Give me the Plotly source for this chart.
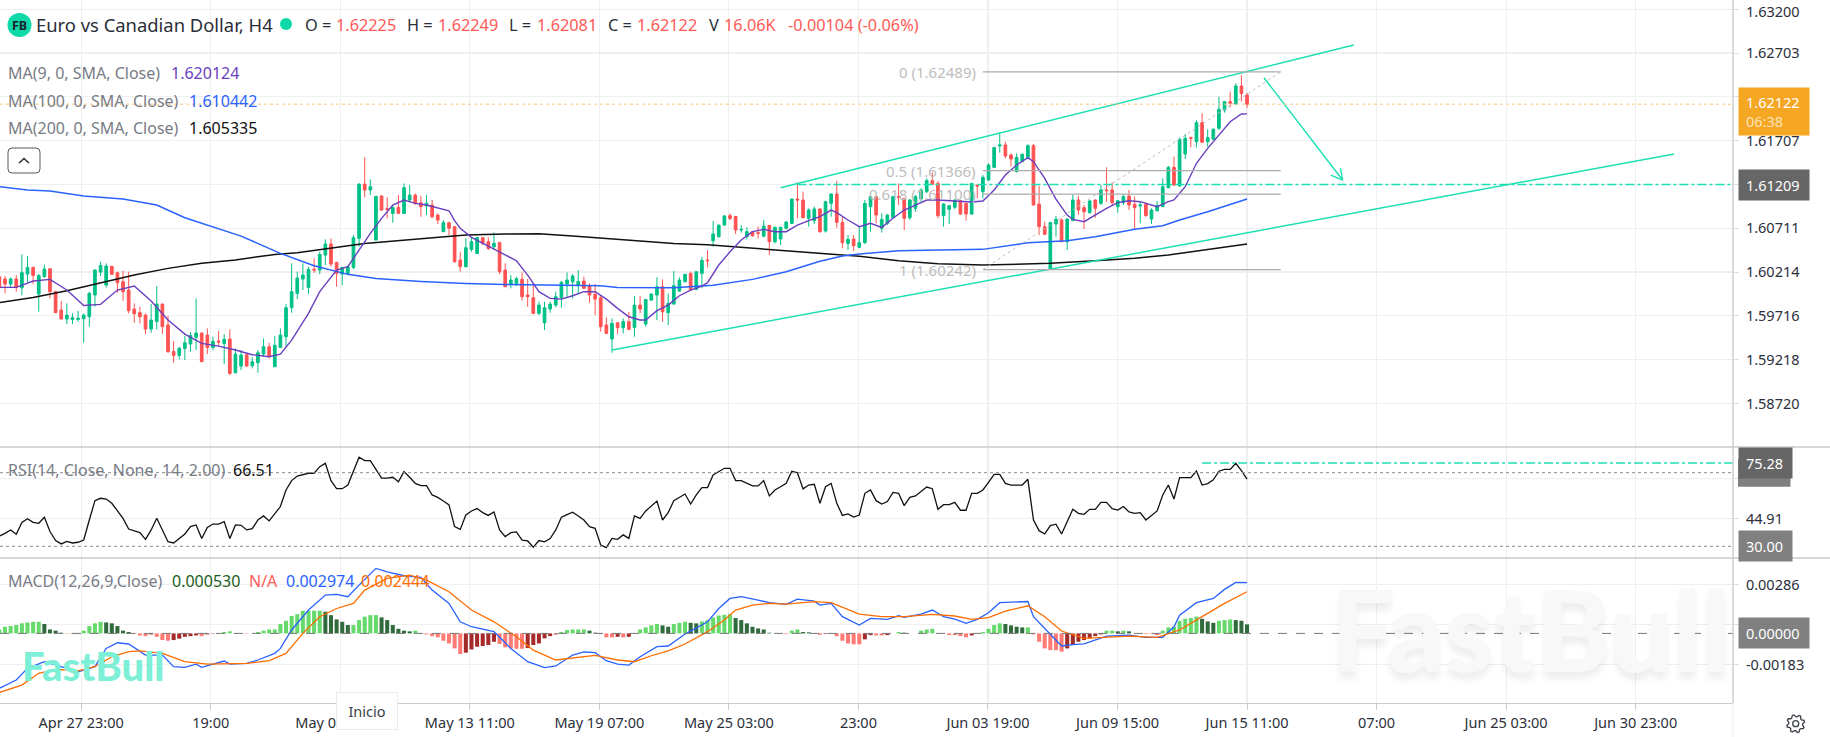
import numpy as np
import plotly.graph_objects as go

# --- four-hour EUR/CAD candles ---
OPEN = [
1.60161,1.60135,1.60078,1.60135,1.60036,1.60191,1.60267,1.59964,1.60161,1.60252,
1.59994,1.59782,1.59680,1.59676,1.59676,1.59684,1.59707,1.59953,1.60214,1.60066,
1.60279,1.60207,1.60104,1.60010,1.59794,1.59752,1.59725,1.59566,1.59650,1.59850,
1.59612,1.59312,1.59267,1.59347,1.59396,1.59472,1.59521,1.59498,1.59358,1.59430,
1.59403,1.59453,1.59070,1.59146,1.59275,1.59150,1.59184,1.59282,1.59365,1.59138,
1.59358,1.59479,1.59809,1.59972,1.60135,1.60040,1.60245,1.60237,1.60407,1.60533,
1.60324,1.60191,1.60199,1.60267,1.60597,1.61214,1.61146,1.60578,1.61078,1.60934,
1.60881,1.60949,1.60881,1.61033,1.61089,1.61002,1.60965,1.60976,1.60862,1.60673,
1.60775,1.60730,1.60351,1.60275,1.60472,1.60426,1.60605,1.60559,1.60502,1.60548,
1.60237,1.60078,1.60085,1.60131,1.59953,1.59922,1.59744,1.59638,1.59794,1.59839,
1.59922,1.60078,1.60104,1.60066,1.60112,1.60055,1.59960,1.59922,1.59612,1.59453,
1.59638,1.59581,1.59650,1.59585,1.59839,1.59623,1.59896,1.59953,1.60047,1.59752,
1.59850,1.59998,1.60104,1.60199,1.60017,1.60199,1.60351,1.60570,1.60616,1.60748,
1.60855,1.60847,1.60692,1.60616,1.60673,1.60661,1.60623,1.60745,1.60559,1.60589,
1.60711,1.60767,1.61044,1.61033,1.60825,1.60798,1.60931,1.60681,1.60995,1.61101,
1.60779,1.60540,1.60590,1.60495,1.60548,1.60957,1.61071,1.60711,1.60768,1.60832,
1.61071,1.61052,1.60832,1.60938,1.61044,1.61128,1.61253,1.61222,1.60855,1.60927,
1.60950,1.61025,1.60995,1.60874,1.61203,1.61128,1.61260,1.61404,1.61647,1.61658,
1.61544,1.61355,1.61469,1.61518,1.61651,1.60987,1.60730,1.60249,1.60760,1.60806,
1.60559,1.60798,1.61033,1.60946,1.60889,1.61033,1.60995,1.61147,1.61147,1.60957,
1.61003,1.61078,1.60984,1.60965,1.60984,1.60817,1.60912,1.60957,1.61173,1.61404,
1.61192,1.61556,1.61741,1.61696,1.61912,1.61696,1.61723,1.61848,1.62056,1.62151,
1.62124,1.62329,1.62225]
HIGH = [
1.60267,1.60169,1.60154,1.60180,1.60415,1.60396,1.60275,1.60191,1.60301,1.60256,
1.59998,1.59885,1.59858,1.59744,1.59771,1.59744,1.59991,1.60245,1.60332,1.60313,
1.60286,1.60218,1.60229,1.60218,1.59858,1.59820,1.59744,1.59850,1.60055,1.59858,
1.59718,1.59430,1.59365,1.59487,1.59532,1.59915,1.59525,1.59574,1.59479,1.59544,
1.59509,1.59563,1.59347,1.59328,1.59282,1.59244,1.59328,1.59460,1.59411,1.59487,
1.59574,1.59850,1.60313,1.60218,1.60313,1.60275,1.60370,1.60445,1.60586,1.60597,
1.60332,1.60275,1.60282,1.60635,1.61222,1.61518,1.61268,1.61074,1.61089,1.61063,
1.60976,1.61089,1.61222,1.61203,1.61108,1.61078,1.61089,1.61033,1.60881,1.60805,
1.60786,1.60737,1.60445,1.60597,1.60605,1.60608,1.60608,1.60608,1.60665,1.60559,
1.60313,1.60180,1.60161,1.60210,1.60135,1.60074,1.59877,1.59877,1.59877,1.59991,
1.60112,1.60210,1.60191,1.60237,1.60161,1.60085,1.60078,1.59953,1.59699,1.59688,
1.59642,1.59688,1.59763,1.59941,1.59941,1.59907,1.59972,1.60154,1.60131,1.59972,
1.60225,1.60154,1.60191,1.60218,1.60225,1.60389,1.60464,1.60794,1.60760,1.60862,
1.60881,1.60851,1.60748,1.60722,1.60680,1.60730,1.60805,1.60748,1.60730,1.60730,
1.60794,1.61048,1.61233,1.61128,1.60938,1.60957,1.60938,1.61025,1.61109,1.61249,
1.60843,1.60635,1.60635,1.60737,1.61033,1.61078,1.61078,1.60881,1.60874,1.61082,
1.61222,1.61052,1.61044,1.61090,1.61166,1.61279,1.61347,1.61249,1.60995,1.60976,
1.61041,1.61033,1.61003,1.61222,1.61203,1.61317,1.61450,1.61639,1.61802,1.61696,
1.61563,1.61563,1.61563,1.61666,1.61670,1.61192,1.60787,1.60787,1.60851,1.60825,
1.60825,1.61090,1.61082,1.60976,1.61033,1.61041,1.61203,1.61404,1.61234,1.61033,
1.61097,1.61147,1.61071,1.61014,1.61006,1.60938,1.61022,1.61279,1.61419,1.61526,
1.61745,1.61783,1.61753,1.61942,1.62018,1.61836,1.61848,1.62208,1.62151,1.62264,
1.62359,1.62454,1.62249]
LOW = [
1.60010,1.59972,1.60040,1.59991,1.59949,1.60097,1.60078,1.59763,1.60154,1.59915,
1.59752,1.59680,1.59623,1.59623,1.59650,1.59411,1.59593,1.59820,1.60169,1.60036,
1.60180,1.59979,1.59888,1.59744,1.59638,1.59631,1.59509,1.59525,1.59562,1.59509,
1.59297,1.59184,1.59221,1.59214,1.59309,1.59328,1.59191,1.59282,1.59328,1.59377,
1.59169,1.59043,1.59062,1.59100,1.59138,1.59119,1.59070,1.59252,1.59233,1.59138,
1.59358,1.59365,1.59752,1.59907,1.60010,1.59964,1.60207,1.60191,1.60294,1.60275,
1.60047,1.60066,1.60180,1.60245,1.60502,1.61063,1.61089,1.60578,1.60911,1.60824,
1.60775,1.60881,1.60874,1.61014,1.60976,1.60843,1.60862,1.60824,1.60760,1.60673,
1.60635,1.60320,1.60218,1.60267,1.60445,1.60419,1.60521,1.60464,1.60472,1.60191,
1.60047,1.60029,1.60055,1.59888,1.59820,1.59737,1.59725,1.59555,1.59752,1.59813,
1.59809,1.59934,1.59915,1.59964,1.60029,1.59866,1.59725,1.59536,1.59509,1.59297,
1.59509,1.59517,1.59555,1.59479,1.59744,1.59593,1.59888,1.59669,1.59650,1.59612,
1.59847,1.59991,1.60097,1.60002,1.60010,1.60029,1.60267,1.60502,1.60604,1.60737,
1.60805,1.60646,1.60661,1.60586,1.60616,1.60597,1.60608,1.60407,1.60540,1.60521,
1.60699,1.60760,1.60824,1.60825,1.60730,1.60760,1.60662,1.60662,1.60843,1.60718,
1.60484,1.60465,1.60453,1.60484,1.60533,1.60673,1.60768,1.60662,1.60749,1.60832,
1.60976,1.60692,1.60806,1.60900,1.61014,1.61109,1.61203,1.60825,1.60730,1.60760,
1.60927,1.60862,1.60798,1.60862,1.61052,1.61052,1.61253,1.61393,1.61571,1.61507,
1.61412,1.61344,1.61469,1.61499,1.60976,1.60635,1.60635,1.60249,1.60616,1.60559,
1.60465,1.60798,1.60862,1.60703,1.60881,1.60832,1.60976,1.61014,1.60976,1.60889,
1.60976,1.60919,1.60700,1.60768,1.60843,1.60760,1.60900,1.60957,1.61166,1.61192,
1.61184,1.61499,1.61632,1.61628,1.61685,1.61639,1.61715,1.61829,1.62026,1.62086,
1.62120,1.62151,1.62081]
CLOSE = [
1.60040,1.60078,1.60135,1.60040,1.60207,1.60267,1.60176,1.60176,1.60248,1.59991,
1.59752,1.59680,1.59725,1.59695,1.59688,1.59725,1.59972,1.60237,1.60290,1.60282,
1.60188,1.60093,1.59991,1.59775,1.59741,1.59707,1.59566,1.59669,1.59850,1.59593,
1.59309,1.59267,1.59347,1.59411,1.59494,1.59521,1.59195,1.59358,1.59426,1.59419,
1.59449,1.59062,1.59282,1.59271,1.59146,1.59195,1.59297,1.59365,1.59259,1.59381,
1.59498,1.59809,1.59991,1.60146,1.60180,1.60245,1.60237,1.60415,1.60533,1.60305,
1.60199,1.60267,1.60275,1.60604,1.61214,1.61146,1.61184,1.61074,1.60919,1.60927,
1.60945,1.60881,1.61173,1.61089,1.60995,1.60957,1.60995,1.60843,1.60805,1.60775,
1.60711,1.60332,1.60275,1.60491,1.60559,1.60605,1.60540,1.60483,1.60540,1.60218,
1.60047,1.60123,1.60138,1.59934,1.59934,1.59744,1.59839,1.59809,1.59850,1.59934,
1.60097,1.60123,1.60169,1.60108,1.60029,1.59953,1.59907,1.59593,1.59517,1.59631,
1.59581,1.59650,1.59563,1.59839,1.59794,1.59903,1.59964,1.60047,1.59763,1.59858,
1.60059,1.60123,1.60188,1.60017,1.60218,1.60347,1.60343,1.60646,1.60745,1.60851,
1.60824,1.60692,1.60699,1.60673,1.60627,1.60654,1.60737,1.60559,1.60722,1.60722,
1.60783,1.61044,1.61033,1.60832,1.60919,1.60931,1.60673,1.61014,1.61101,1.60779,
1.60548,1.60586,1.60514,1.60548,1.60995,1.61071,1.60862,1.60813,1.60862,1.61071,
1.61063,1.60825,1.61033,1.61071,1.61147,1.61253,1.61211,1.60855,1.60987,1.60969,
1.61033,1.60874,1.60874,1.61222,1.61192,1.61291,1.61431,1.61628,1.61658,1.61533,
1.61499,1.61518,1.61552,1.61651,1.60976,1.60730,1.60643,1.60775,1.60813,1.60559,
1.60817,1.61033,1.60919,1.60900,1.61022,1.60938,1.61147,1.61139,1.61003,1.61025,
1.61071,1.60976,1.60946,1.60976,1.60855,1.60919,1.60969,1.61184,1.61404,1.61203,
1.61723,1.61734,1.61734,1.61912,1.61688,1.61741,1.61836,1.62064,1.62151,1.62132,
1.62329,1.62245,1.62122]
BARS = list(range(len(CLOSE)))

# --- moving averages, sampled along the series ---
MA9_BARS = [0,3,6,9,12,15,18,21,24,27,30,33,36,39,42,45,48,50,52,55,57,60,62,64,66,68,70,72,74,76,78,80,81,82,84,86,88,90,92,94,96,98,100,102,104,106,108,110,112,114,115,117,119,121,123,125,126,128,130,132,134,136,138,140,142,144,146,148,149,151,153,155,157,159,161,163,165,167,169,171,173,175,177,179,181,183,184,186,188,190,191,193,195,197,199,201,203,205,206,208,209,211,213,215,217,219,221,222]
MA9 = [1.60040,1.60040,1.60112,1.60131,1.60010,1.59835,1.59847,1.60010,1.60055,1.59885,1.59669,1.59509,1.59403,1.59373,1.59328,1.59275,1.59252,1.59282,1.59441,1.59744,1.59991,1.60237,1.60275,1.60464,1.60654,1.60824,1.60976,1.61033,1.60995,1.60976,1.60945,1.60911,1.60798,1.60711,1.60608,1.60540,1.60472,1.60407,1.60343,1.60180,1.59991,1.59915,1.59907,1.59945,1.59991,1.59991,1.59907,1.59801,1.59706,1.59669,1.59669,1.59775,1.59839,1.59945,1.60010,1.60055,1.60093,1.60294,1.60445,1.60578,1.60673,1.60699,1.60673,1.60673,1.60748,1.60798,1.60843,1.60919,1.60889,1.60806,1.60730,1.60768,1.60722,1.60825,1.60919,1.60976,1.61033,1.61033,1.61025,1.61022,1.61010,1.61022,1.61147,1.61317,1.61431,1.61514,1.61469,1.61279,1.61044,1.60862,1.60813,1.60787,1.60862,1.60938,1.61003,1.61025,1.61014,1.60976,1.60957,1.61014,1.61033,1.61184,1.61450,1.61620,1.61772,1.61923,1.62010,1.620124]
MA100_BARS = [0,5,9,15,22,28,33,43,50,56,62,67,75,83,90,100,107,110,120,127,134,140,146,150,153,160,172,175,183,190,195,202,207,210,215,222]
MA100 = [1.61184,1.61146,1.61135,1.61078,1.61044,1.60976,1.60832,1.60623,1.60426,1.60286,1.60188,1.60142,1.60108,1.60085,1.60074,1.60066,1.60059,1.60040,1.60036,1.60063,1.60131,1.60218,1.60338,1.60396,1.60419,1.60457,1.60468,1.60472,1.60548,1.60571,1.60616,1.60700,1.60741,1.60806,1.60900,1.610442]
MA200_BARS = [0,6,12,18,24,30,36,42,49,53,59,65,75,83,90,96,102,108,114,120,126,132,138,146,153,160,167,175,187,195,202,208,214,222]
MA200 = [1.59866,1.59926,1.60002,1.60093,1.60180,1.60256,1.60313,1.60351,1.60415,1.60434,1.60483,1.60540,1.60593,1.60635,1.60646,1.60650,1.60623,1.60597,1.60567,1.60540,1.60525,1.60495,1.60472,1.60432,1.60393,1.60343,1.60309,1.60294,1.60313,1.60343,1.60370,1.60408,1.60465,1.605335]

# --- RSI(14), one reading per bar ---
RSI = [
35.6,37.0,38.9,36.5,43.0,45.0,43.0,42.5,45.8,38.0,
33.1,31.3,32.7,31.8,32.2,33.4,44.3,54.8,56.1,55.7,
53.4,49.4,45.2,39.4,38.5,37.4,33.8,38.9,45.2,38.9,
32.5,31.8,34.3,36.7,40.7,41.6,34.2,40.3,42.1,42.1,
43.4,34.2,41.6,41.4,38.9,39.6,44.3,46.5,43.8,47.6,
51.6,60.6,65.7,68.2,69.0,69.7,69.7,73.3,75.1,65.7,
61.3,61.3,63.3,71.1,78.4,76.6,76.6,71.8,67.1,67.1,
67.5,65.1,70.6,67.5,64.2,63.0,63.0,57.9,56.6,54.6,
52.5,40.7,39.2,47.0,49.2,50.5,48.3,46.8,48.7,38.9,
35.3,37.4,37.8,33.4,32.9,29.5,33.1,32.4,34.2,38.9,
45.8,47.2,48.5,46.5,44.3,40.7,39.8,30.7,29.3,34.3,
33.8,36.2,34.3,46.5,45.2,49.2,51.9,54.6,44.3,48.3,
54.8,56.6,58.4,53.0,57.9,61.9,61.9,68.8,70.6,72.4,
72.4,65.7,65.7,64.2,62.8,62.8,65.7,57.4,60.6,62.4,
64.2,70.8,70.0,61.2,63.3,63.7,53.4,62.4,64.2,53.4,
46.8,47.6,45.9,47.0,58.8,60.6,54.8,53.0,54.3,59.3,
58.8,52.1,56.6,57.4,59.7,62.2,61.3,50.1,52.6,52.6,
53.9,49.6,49.6,58.8,58.8,60.6,64.8,69.1,69.1,64.2,
63.3,63.3,63.3,66.4,44.3,38.5,36.7,41.2,42.0,36.7,
43.4,50.1,47.9,47.4,50.1,50.1,53.9,53.9,50.5,49.7,
51.6,48.7,47.9,48.3,44.3,46.8,49.2,57.9,63.3,55.7,
67.3,67.3,67.3,70.9,63.3,64.1,66.1,70.8,71.8,71.8,
75.1,71.1,66.51]

# --- MACD(12,26,9) ---
MACD_HIST = [
.00023,.00039,.00043,.00049,.00059,.00064,.00068,.00068,.00055,.00023,
.00016,.00004,-.00002,-.00004,-.00004,.00016,.00043,.00059,.00068,.00064,
.00059,.00043,.00016,.00008,-.00004,-.00012,-.00016,-.00006,-.00020,-.00039,
-.00043,-.00039,-.00031,-.00020,-.00016,-.00012,-.00016,-.00006,-.00002,.00002,
.00008,.00012,.00002,0,-.00002,0,.00008,.00016,.00023,.00023,
.00055,.00074,.00102,.00113,.00133,.00133,.00133,.00133,.00127,.00107,
.00082,.00068,.00049,.00049,.00078,.00098,.00107,.00107,.00094,.00078,
.00049,.00027,.00016,.00012,.00016,.00002,-.00006,-.00016,-.00023,-.00043,
-.00059,-.00088,-.00121,-.00113,-.00094,-.00078,-.00074,-.00068,-.00049,-.00062,
-.00082,-.00088,-.00090,-.00090,-.00086,-.00068,-.00059,-.00029,-.00016,-.00006,
.00008,.00020,.00023,.00023,.00023,.00016,.00004,-.00004,-.00023,-.00023,
-.00020,-.00023,-.00020,0,.00023,.00035,.00047,.00055,.00047,.00039,
.00055,.00062,.00068,.00062,.00059,.00070,.00078,.00094,.00105,.00109,
.00113,.00090,.00078,.00059,.00039,.00029,.00023,.00004,0,0,
-.00004,.00016,.00023,.00008,.00006,.00002,-.00008,-.00004,-.00002,-.00016,
-.00043,-.00059,-.00064,-.00064,-.00035,-.00010,-.00012,-.00012,-.00010,0,
.00008,.00004,0,0,.00016,.00023,.00027,.00002,-.00002,-.00010,
-.00010,-.00016,-.00023,-.00012,.00002,.00008,.00027,.00049,.00059,.00055,
.00047,.00039,.00035,.00035,-.00006,-.00049,-.00088,-.00098,-.00098,-.00107,
-.00088,-.00068,-.00049,-.00039,-.00029,-.00016,-.00006,.00016,.00016,.00012,
.00016,.00012,0,-.00004,-.00004,-.00004,-.00010,.00016,.00035,.00039,
.00074,.00086,.00090,.00098,.00086,.00070,.00062,.00074,.00078,.00082,
.00078,.00074,.00053]
DIF_BARS = [0,3,5,8,11,14,17,19,21,23,26,29,31,33,35,36,38,40,41,44,46,49,50,52,55,58,60,62,64,67,69,72,75,77,80,82,84,88,91,94,97,99,102,104,106,108,110,112,114,117,119,122,126,128,130,132,135,137,140,142,145,146,148,150,153,155,158,160,161,164,166,168,170,172,174,176,178,183,184,186,189,191,193,197,201,204,207,209,210,213,216,218,220,222]
DIF = [-.00322,-.00273,-.00205,-.00166,-.00195,-.00225,-.00195,-.00088,-.00055,-.00062,-.00127,-.00127,-.00195,-.00199,-.00180,-.00199,-.00180,-.00162,-.00180,-.00176,-.00156,-.00117,-.00088,.00020,.00137,.00225,.00229,.00215,.00283,.00381,.00361,.00338,.00328,.00254,.00176,.00068,.00039,.00010,-.00088,-.00166,-.00201,-.00191,-.00127,-.00109,-.00113,-.00160,-.00180,-.00186,-.00137,-.00078,-.00074,-.00004,.00068,.00146,.00205,.00215,.00195,.00180,.00170,.00201,.00189,.00166,.00176,.00098,.00049,.00088,.00082,.00104,.00094,.00113,.00137,.00098,.00084,.00059,.00082,.00121,.00180,.00187,.00098,.00029,-.00074,-.00066,-.00062,-.00016,-.00010,-.00023,-.00023,.00039,.00107,.00180,.00205,.00258,.00299,.002974]
DEA_BARS = [0,4,7,10,14,17,20,23,25,29,33,37,44,48,51,54,57,60,63,65,69,73,76,80,84,88,92,95,99,103,106,110,113,116,119,122,126,129,131,134,137,140,145,148,150,153,157,161,166,170,173,176,179,183,186,189,193,197,201,206,210,214,218,222]
DEA = [-.00346,-.00303,-.00234,-.00211,-.00219,-.00195,-.00137,-.00107,-.00102,-.00117,-.00166,-.00180,-.00176,-.00160,-.00117,0,.00098,.00146,.00176,.00254,.00322,.00342,.00312,.00244,.00137,.00068,-.00020,-.00098,-.00156,-.00143,-.00129,-.00156,-.00166,-.00131,-.00102,-.00062,.00010,.00078,.00137,.00166,.00176,.00172,.00186,.00180,.00152,.00113,.00098,.00098,.00111,.00102,.00082,.00092,.00131,.00162,.00098,.00014,-.00029,-.00023,-.00016,-.00023,.00020,.00098,.00176,.002444]

# --- axis ticks; an empty label sits behind a value tag or is placed separately ---
PRICE_TICKS = [1.63200,1.62703,1.62205,1.61707,1.61209,1.60711,1.60214,1.59716,1.59218,1.58720]
PRICE_LABELS = ["","1.62703","","1.61707","","1.60711","1.60214","1.59716","1.59218","1.58720"]
TOP_PRICE_LABEL = "1.63200"
RSI_TICKS = [44.91,66.82]
RSI_LABELS = ["44.91",""]
MACD_TICKS = [0.00286,0.00052,-0.00183]
MACD_LABELS = ["0.00286","","-0.00183"]
TIME_TICK_BARS = [14.55,37.6,60.65,83.7,106.75,129.8,152.85,175.9,198.95,222,245.05,268.1,291.15]
TIME_TICK_LABELS = ["Apr 27 23:00","19:00","May 07 15:00","May 13 11:00","May 19 07:00","May 25 03:00","23:00",
                    "Jun 03 19:00","Jun 09 15:00","Jun 15 11:00","07:00","Jun 25 03:00","Jun 30 23:00"]

# --- drawing tools on the price pane ---
CHANNEL_TOP_BARS, CHANNEL_TOP = [139, 241], [1.61173, 1.62795]
CHANNEL_BOTTOM_BARS, CHANNEL_BOTTOM = [109, 298], [1.59328, 1.61556]
FIB_BARS = [175, 228]
FIB_LEVELS = [("0", 1.62489), ("0.5", 1.61366), ("0.618", 1.61100), ("1", 1.60242)]
ARROW_BARS = [225, 239, None, 236.9, 239, 238.65]
ARROW_PRICES = [1.62423, 1.61260, None, 1.61317, 1.61260, 1.61393]
LAST_PRICE, TARGET_PRICE = 1.62122, 1.61209
RSI_MARK = 75.28

WIDTH, HEIGHT = 1830, 737
PLOT_W, PLOT_H = 1733, 703
TEAL = "#1CE0B4"
GREY = "#777C85"
RED = "#FF5A55"
INK = "#2B2F3A"


def px(x):
    return x / PLOT_W


def py(y):
    return 1 - y / PLOT_H


fig = go.Figure()

fig.add_trace(go.Candlestick(
    x=BARS, open=OPEN, high=HIGH, low=LOW, close=CLOSE, xaxis="x", yaxis="y", hoverinfo="skip",
    increasing=dict(line=dict(color="#00C087", width=1), fillcolor="#00C087"),
    decreasing=dict(line=dict(color="#FF5252", width=1), fillcolor="#FF5252"),
))


def line(xs, ys, color, width=1.5, axis="y", dash=None):
    fig.add_trace(go.Scatter(x=xs, y=ys, mode="lines", xaxis="x", yaxis=axis, hoverinfo="skip",
                             line=dict(color=color, width=width, dash=dash), connectgaps=False))


line(MA200_BARS, MA200, "#111111", 1.5)
line(MA100_BARS, MA100, "#2962FF", 1.5)
line(MA9_BARS, MA9, "#6A3FC0", 1.4)
line(CHANNEL_TOP_BARS, CHANNEL_TOP, TEAL, 1.5)
line(CHANNEL_BOTTOM_BARS, CHANNEL_BOTTOM, TEAL, 1.5)
line(ARROW_BARS, ARROW_PRICES, TEAL, 1.4)
for _, level in FIB_LEVELS:
    line(FIB_BARS, [level, level], "#ABABAB", 1.2)
line(FIB_BARS, [FIB_LEVELS[3][1], FIB_LEVELS[0][1]], "#BDBDBD", 1, dash="dot")

line(BARS, RSI, "#111111", 1.3, axis="y2")

hist_colors = []
for i, v in enumerate(MACD_HIST):
    prev = MACD_HIST[i - 1] if i else 0
    if v >= 0:
        hist_colors.append("#66D96B" if v >= prev else "#2F6B3C")
    else:
        hist_colors.append("#FF7B74" if v <= prev else "#A52A2A")
fig.add_trace(go.Bar(x=BARS, y=MACD_HIST, xaxis="x", yaxis="y3", marker=dict(color=hist_colors, line_width=0),
                     width=0.72, hoverinfo="skip"))
line(DIF_BARS, DIF, "#2962FF", 1.3, axis="y3")
line(DEA_BARS, DEA, "#FF6D00", 1.3, axis="y3")

# Level lines
shapes = []


def hline(value, yref, color, dash, width=1, x0=0, x0ref="paper"):
    shapes.append(dict(type="line", xref=x0ref, yref=yref, x0=x0, x1=308.47 if x0ref == "x" else 1,
                       y0=value, y1=value, line=dict(color=color, width=width, dash=dash), layer="above"))


hline(LAST_PRICE, "y", "#F8C67A", "dot", 1)
hline(TARGET_PRICE, "y", TEAL, "dashdot", 1.4, x0=142, x0ref="x")
hline(70, "y2", "#8A8A8A", "dot", 1)
hline(30, "y2", "#8A8A8A", "dot", 1)
hline(RSI_MARK, "y2", TEAL, "dashdot", 1.4, x0=214, x0ref="x")
hline(0, "y3", "#777777", "dash", 1)

# Pane separators and the price-scale border
for y in (447, 558):
    shapes.append(dict(type="line", xref="paper", yref="paper", x0=0, x1=WIDTH / PLOT_W, y0=py(y), y1=py(y),
                       line=dict(color="#C9CBCF", width=1.4)))
shapes.append(dict(type="line", xref="paper", yref="paper", x0=1, x1=1, y0=py(0), y1=py(703),
                   line=dict(color="#C9CBCF", width=1.4)))
shapes.append(dict(type="line", xref="paper", yref="paper", x0=1, x1=1, y0=py(703), y1=py(737),
                   line=dict(color="#EEEEEE", width=1)))

# Second RSI level tag, mostly covered by the 75.28 tag above it
shapes.append(dict(type="rect", xref="paper", yref="paper", x0=px(1738), x1=px(1790.5), y0=py(486.7), y1=py(459),
                   fillcolor="#808080", line=dict(width=0), layer="above"))


def circle(cx, cy, r, fill, outline=None, lw=0):
    shapes.append(dict(type="circle", xref="paper", yref="paper", x0=px(cx - r), x1=px(cx + r),
                       y0=py(cy + r), y1=py(cy - r), fillcolor=fill, line=dict(color=outline or fill, width=lw)))


def path(points, color, lw=1.3, closed=False, fill="rgba(0,0,0,0)"):
    d = "M " + " L ".join(f"{px(x):.5f},{py(y):.5f}" for x, y in points) + (" Z" if closed else "")
    shapes.append(dict(type="path", xref="paper", yref="paper", path=d, fillcolor=fill, line=dict(color=color, width=lw)))


circle(19.5, 25, 12, "#0FD9A8")
circle(286, 24, 6, "#0FD9A8")

# Collapse button in the legend block
bx0, bx1, by0, by1, rc = 8, 40, 148, 173, 4
arc = [(bx0 + rc, by0), (bx1 - rc, by0), (bx1 - 1, by0 + 1), (bx1, by0 + rc), (bx1, by1 - rc), (bx1 - 1, by1 - 1),
       (bx1 - rc, by1), (bx0 + rc, by1), (bx0 + 1, by1 - 1), (bx0, by1 - rc), (bx0, by0 + rc), (bx0 + 1, by0 + 1)]
path(arc, "#55595F", 1, closed=True)
path([(19, 163), (24, 158.5), (29, 163)], "#2B2F3A", 1.6)

# Settings gear
teeth = 8
angles = np.linspace(0, 2 * np.pi, teeth * 4, endpoint=False) + np.pi / 8
radii = np.tile([9, 9, 7, 7], teeth)
path([(1795.7 + r * np.cos(a), 723.7 + r * np.sin(a)) for r, a in zip(radii, angles)], "#3A3F47", 1.3, closed=True)
circle(1795.7, 723.7, 3, "rgba(0,0,0,0)", "#3A3F47", 1.3)

annotations = []


def text(x, y, s, color=INK, size=16, anchor="left", family="Noto Sans", **extra):
    nudge = 2 if anchor == "left" else 0
    annotations.append(dict(xref="paper", yref="paper", x=px(x - nudge), y=py(y), text=s, showarrow=False,
                            xanchor=anchor, yanchor="middle", align=anchor,
                            font=dict(family=family, size=size, color=color, **extra)))


# Faint brand marks
text(1331, 628, "FastBull", "#F8F8F8", 112, family="Lato", weight=900, shadow="0px 7px 7px rgba(0,0,0,0.07)")
text(22, 666, "FastBull", "#7DEFD7", 40, family="Lato", weight=900)

# Topmost price label, kept fully inside the page
text(1746.5, 11.5, TOP_PRICE_LABEL, INK, 14.5)

# Header
annotations.append(dict(xref="paper", yref="paper", x=px(19.5), y=py(25.5), text="FB", showarrow=False,
                        xanchor="center", yanchor="middle", font=dict(family="Noto Sans", size=12.5, color="#17212B", weight=700)))
text(35.5, 24.5, "Euro vs Canadian Dollar, H4", INK, 18.4)
for x, s in [(305, "O ="), (407, "H ="), (509, "L ="), (608, "C ="), (709, "V")]:
    text(x, 25, s, INK, 16.3)
for x, s in [(336, "1.62225"), (438, "1.62249"), (537, "1.62081"), (637, "1.62122"), (724, "16.06K"), (788, "-0.00104 (-0.06%)")]:
    text(x, 25, s, RED, 16.3)

# Indicator legends
for y, name, xv, val, col in [(73, "MA(9, 0, SMA, Close)", 171, "1.620124", "#6A3FC0"),
                              (101, "MA(100, 0, SMA, Close)", 189, "1.610442", "#2962FF"),
                              (128, "MA(200, 0, SMA, Close)", 189, "1.605335", "#111111")]:
    text(8, y, name, GREY)
    text(xv, y, val, col)
text(8, 470, "RSI(14, Close, None, 14, 2.00)", GREY)
text(233, 470, "66.51", "#111111")
text(8, 581, "MACD(12,26,9,Close)", GREY)
text(172, 581, "0.000530", "#1B5E20")
text(249, 581, "N/A", RED)
text(285.5, 581, "0.002974", "#2962FF")
text(361.4, 581, "0.002444", "#FF6D00")

# Fibonacci labels
for name, level in FIB_LEVELS:
    annotations.append(dict(xref="x", yref="y", x=174.2, y=level, text=f"{name} ({level:.5f})", showarrow=False,
                            xanchor="right", yanchor="middle", font=dict(family="Noto Sans", size=15, color="#BDBDBD")))


def tag(s, yref, value, bg, w=56, h=16, color="#FFFFFF", yshift=0, pad=7):
    annotations.append(dict(xref="paper", yref=yref, x=1738 / PLOT_W, y=value, text=s, showarrow=False, xanchor="left",
                            yanchor="middle", align="left", bgcolor=bg, borderpad=pad, width=w, height=h, yshift=yshift,
                            font=dict(family="Noto Sans", size=14.5, color=color)))


tag("1.62122<br><span style='color:#FCE3B5'>06:38</span>", "y", LAST_PRICE, "#F5A623", h=33, yshift=-7)
tag("1.61209", "y", TARGET_PRICE, "#666666")
tag("75.28", "y2", RSI_MARK, "#666666", w=39)
tag("30.00", "y2", 30, "#808080", w=39)
tag("0.00000", "y3", 0, "#808080")

# Hover hint over the time scale
annotations.append(dict(xref="paper", yref="paper", x=px(367), y=py(710.5), text="Inicio", showarrow=False,
                        xanchor="center", yanchor="middle", width=58, height=34, bgcolor="#FFFFFF",
                        bordercolor="#ECECEC", borderwidth=1, font=dict(family="Noto Sans", size=14.5, color="#3A3F47")))

GRID = "#EFEFEF"
tick_font = dict(family="Noto Sans", size=14.5, color=INK)


def y_axis(domain_top, domain_bottom, rng, vals, labels):
    return dict(domain=[py(domain_bottom), py(domain_top)], range=rng, side="right", anchor="x", showgrid=True,
                gridcolor=GRID, gridwidth=1.2, zeroline=False, tickmode="array", tickvals=vals, ticktext=labels,
                ticks="outside", ticklen=5, tickcolor="#DDDDDD", tickfont=tick_font, ticklabelstandoff=4,
                ticklabeloverflow="allow", showline=False, automargin=False, fixedrange=True)


fig.update_layout(
    width=WIDTH, height=HEIGHT, margin=dict(l=0, r=WIDTH - PLOT_W, t=0, b=HEIGHT - PLOT_H, pad=0),
    paper_bgcolor="#FFFFFF", plot_bgcolor="#FFFFFF", showlegend=False, autosize=False,
    boxgap=0.32, barmode="overlay", dragmode=False,
    xaxis=dict(domain=[0, 1], range=[0.107, 308.47], anchor="y3", showgrid=True, gridcolor=GRID, gridwidth=1.2,
               zeroline=False, tickmode="array", tickvals=TIME_TICK_BARS, ticktext=TIME_TICK_LABELS,
               ticks="outside", ticklen=6, tickcolor="#C9CBCF", tickfont=tick_font, showline=True,
               linecolor="#C9CBCF", linewidth=1.4, rangeslider=dict(visible=False), automargin=False, fixedrange=True),
    yaxis=y_axis(0, 447, [1.58226, 1.63306], PRICE_TICKS, PRICE_LABELS),
    yaxis2=y_axis(447, 558, [23.64, 83.97], RSI_TICKS, RSI_LABELS),
    yaxis3=y_axis(558, 703, [-0.00408, 0.00442], MACD_TICKS, MACD_LABELS),
    shapes=shapes, annotations=annotations,
)

fig.write_html("out.html", config=dict(displayModeBar=False, staticPlot=True))
